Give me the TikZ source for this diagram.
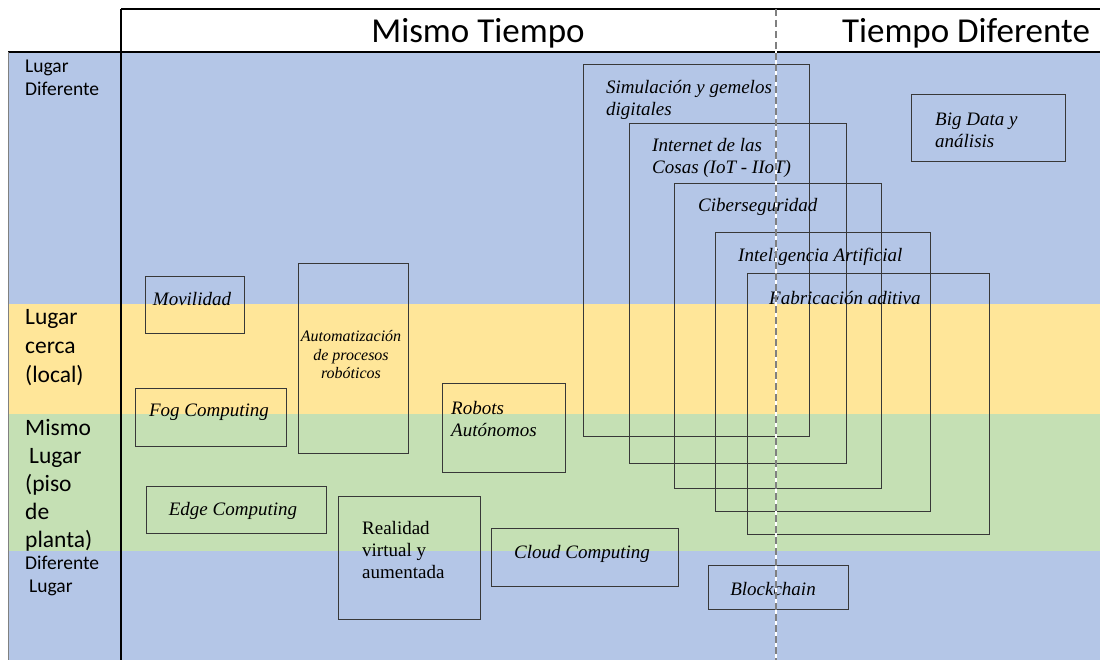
\documentclass[tikz,border=0pt]{standalone}
\usepackage{fontspec}
\setmainfont{Liberation Serif}
\newfontfamily\calibri{Carlito}
\definecolor{bandblue}{HTML}{B4C6E7}
\definecolor{bandyellow}{HTML}{FFE699}
\definecolor{bandgreen}{HTML}{C5E0B4}
\definecolor{boxline}{HTML}{383838}
\begin{document}
\begin{tikzpicture}[x=1pt,y=-1pt,
  techbox/.style={draw=boxline,line width=1.3pt,inner sep=0pt,anchor=north west},
  techtext/.style={font=\fontsize{19}{22}\selectfont\itshape,inner sep=0pt,align=left},
  rowlabel/.style={font=\calibri\fontsize{23.5}{29}\selectfont,inner sep=0pt,align=left,anchor=west},
  smalllabel/.style={font=\calibri\fontsize{19.5}{23}\selectfont,inner sep=0pt,align=left,anchor=west},
  colhead/.style={font=\calibri\fontsize{35}{40}\selectfont,inner sep=0pt}]
\useasboundingbox (0,0) rectangle (1100,660);
\fill[bandblue] (8,52) rectangle (1100,304);
\fill[bandyellow] (8,304) rectangle (1100,414);
\fill[bandgreen] (8,414) rectangle (1100,551);
\fill[bandblue] (8,551) rectangle (1100,660);
\node[techbox,minimum width=99pt,minimum height=57pt] (movilidad) at (145,276) {};
\node[techbox,minimum width=110pt,minimum height=190pt] (rpa) at (298,263) {};
\node[techbox,minimum width=151pt,minimum height=58pt] (fog) at (135,388) {};
\node[techbox,minimum width=123pt,minimum height=89pt] (robots) at (442,383) {};
\node[techbox,minimum width=180pt,minimum height=47pt] (edge) at (146,486) {};
\node[techbox,minimum width=142pt,minimum height=123pt] (realidad) at (338,496) {};
\node[techbox,minimum width=187pt,minimum height=58pt] (cloud) at (491,528) {};
\node[techbox,minimum width=140pt,minimum height=44pt] (blockchain) at (708,565) {};
\node[techbox,minimum width=154pt,minimum height=67pt] (bigdata) at (911,94) {};
\node[techbox,minimum width=226pt,minimum height=372pt] (simulacion) at (583,64) {};
\node[techbox,minimum width=217pt,minimum height=340pt] (iot) at (629,123) {};
\node[techbox,minimum width=207pt,minimum height=305pt] (ciber) at (674,183) {};
\node[techbox,minimum width=215pt,minimum height=279pt] (ia) at (715,232) {};
\node[techbox,minimum width=242pt,minimum height=261pt] (aditiva) at (747,273) {};
\node[techtext] (movilidadtxt) at (192,299) {Movilidad};
\node[techtext,font=\fontsize{16}{18.5}\selectfont\itshape,align=center] (rpatxt) at (351,355) {Automatización\\de procesos\\robóticos};
\node[techtext] (fogtxt) at (209,412) {Fog Computing};
\node[techtext,anchor=west] (robotstxt) at (451,419) {Robots\\Autónomos};
\node[techtext] (edgetxt) at (233,511) {Edge Computing};
\node[techtext,font=\fontsize{19}{22}\selectfont,anchor=west] (realidadtxt) at (362,550) {Realidad\\virtual y\\aumentada};
\node[techtext] (cloudtxt) at (582,554) {Cloud Computing};
\node[techtext] (blockchaintxt) at (773,589) {Blockchain};
\node[techtext,anchor=west] (bigdatatxt) at (935,130) {Big Data y\\análisis};
\node[techtext,anchor=west] (simulaciontxt) at (606,100) {Simulación y gemelos\\digitales};
\node[techtext,anchor=west] (iottxt) at (652,158) {Internet de las\\Cosas (IoT - IIoT)};
\node[techtext,anchor=west] (cibertxt) at (698,207) {Ciberseguridad};
\node[techtext,anchor=west] (iatxt) at (738,257) {Inteligencia Artificial};
\node[techtext,anchor=west] (aditivatxt) at (769,298) {Fabricación aditiva};
\draw[line width=1.5pt] (121,9) -- (1100,9);
\draw[line width=2pt] (8,52) -- (1100,52);
\draw[line width=2pt] (121,9) -- (121,660);
\draw[gray,line width=1pt] (8,52) -- (8,660);
\draw[white,line width=2pt] (776,9) -- (776,660);
\draw[gray,line width=2pt,dash pattern=on 7pt off 4pt] (776,9) -- (776,660);
\node[colhead] (mismotiempo) at (478,33) {Mismo Tiempo};
\node[colhead] (tiempodif) at (966,33) {Tiempo Diferente};
\node[smalllabel] (lugardif) at (25,78) {Lugar\\Diferente};
\node[rowlabel] (lugarcerca) at (25,348) {Lugar\\cerca\\(local)};
\node[rowlabel,font=\calibri\fontsize{23.5}{28}\selectfont] (mismolugar) at (25,485) {Mismo\\\hspace*{4pt}Lugar\\(piso\\de\\planta)};
\node[smalllabel] (diflugar) at (25,576) {Diferente\\\hspace*{4pt}Lugar};
\end{tikzpicture}
\end{document}
